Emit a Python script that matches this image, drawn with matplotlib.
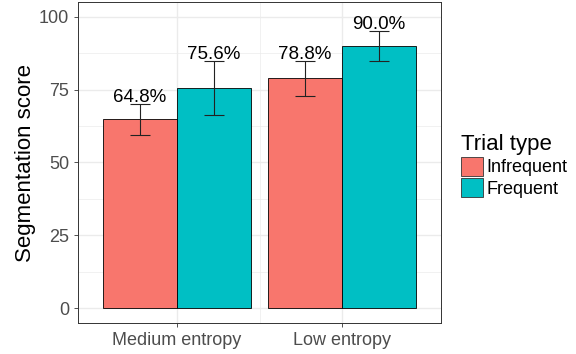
import matplotlib
matplotlib.use("Agg")
import matplotlib.pyplot as plt
import numpy as np
from matplotlib.patches import Patch

plt.rcParams["font.family"] = ["Liberation Sans", "DejaVu Sans"]

categories = ["Medium entropy", "Low entropy"]
trial_types = ["Infrequent", "Frequent"]
means = {"Infrequent": [64.8, 78.8], "Frequent": [75.6, 90.0]}
errors = {"Infrequent": [5.4, 6.0], "Frequent": [9.3, 5.1]}
colors = {"Infrequent": "#F8766D", "Frequent": "#00BFC4"}

GRID = "#EBEBEB"
TICK = "#4D4D4D"

fig = plt.figure(figsize=(5.76, 3.54), dpi=100)
ax = fig.add_axes([78 / 576, 1 - 323 / 354, (441 - 78) / 576, (323 - 2) / 354])

x = np.arange(1, len(categories) + 1)
width = 0.45
for i, t in enumerate(trial_types):
    pos = x + (i - 0.5) * width
    ax.bar(pos, means[t], width=width, color=colors[t], edgecolor="black",
           linewidth=0.6, zorder=2)
    ax.errorbar(pos, means[t], yerr=errors[t], fmt="none", ecolor="#222222",
                elinewidth=0.8, capsize=7.2, capthick=0.8, zorder=3)
    for p, m, e in zip(pos, means[t], errors[t]):
        ax.text(p, m + e - 0.8, f"{m:.1f}%", ha="center", va="bottom",
                fontsize=13.5, color="black", zorder=4)

ax.set_xlim(0.4, 2.6)
ax.set_ylim(-5, 105)
ax.set_yticks([0, 25, 50, 75, 100])
ax.set_yticks([12.5, 37.5, 62.5, 87.5], minor=True)
ax.set_xticks(x)
ax.set_xticks([1.5], minor=True)
ax.set_xticklabels(categories)
ax.tick_params(axis="both", which="major", labelsize=13, labelcolor=TICK,
               color="#333333", length=3, width=0.6)
ax.tick_params(axis="both", which="minor", length=0)
ax.grid(True, which="major", color=GRID, linewidth=1.0, zorder=0)
ax.grid(True, which="minor", color=GRID, linewidth=0.5, zorder=0)
ax.set_axisbelow(True)
for s in ax.spines.values():
    s.set_color("#333333")
    s.set_linewidth(0.7)

ax.set_ylabel("Segmentation score", fontsize=16, labelpad=2)

handles = [Patch(facecolor=colors[t], edgecolor="#333333", linewidth=0.6) for t in trial_types]
leg = fig.legend(handles, trial_types, title="Trial type", loc="center left",
                 bbox_to_anchor=(452 / 576, 1 - 166 / 354), frameon=False,
                 fontsize=13, title_fontsize=16, handlelength=1.2, handleheight=1.2,
                 handletextpad=0.2, labelspacing=0.1, borderpad=0)
leg._legend_box.align = "left"

fig.savefig("out.png", dpi=100, facecolor="white")
